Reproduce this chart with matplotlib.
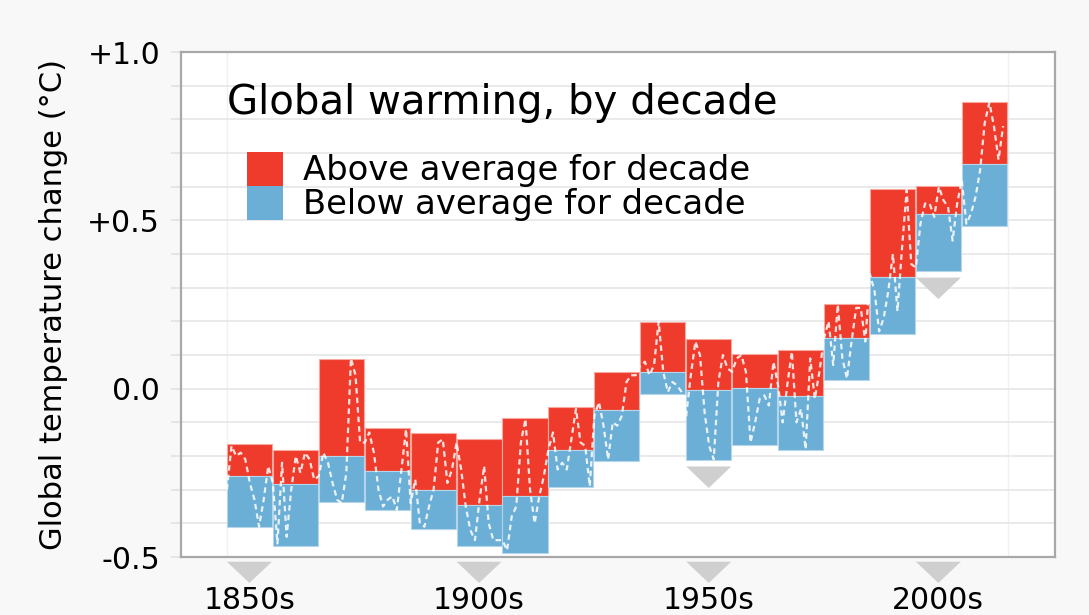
import matplotlib.pyplot as plt
import numpy as np
from matplotlib.patches import Rectangle, Polygon

# decades and their ranges (deg C)
decades = np.arange(1850, 2020, 10)
dec_max = [-0.163, -0.183, 0.089, -0.117, -0.132, -0.150, -0.087, -0.053, 0.049,
           0.198, 0.149, 0.103, 0.116, 0.252, 0.593, 0.601, 0.852]
dec_mean = [-0.260, -0.282, -0.199, -0.244, -0.300, -0.346, -0.318, -0.183, -0.062,
            0.051, -0.005, 0.002, -0.021, 0.151, 0.332, 0.519, 0.667]
dec_min = [-0.412, -0.468, -0.338, -0.361, -0.417, -0.466, -0.487, -0.292, -0.216,
           -0.016, -0.211, -0.166, -0.183, 0.027, 0.163, 0.350, 0.482]

# annual values (dashed line)
annual = [
    -0.30, -0.17, -0.20, -0.19, -0.21, -0.28, -0.33, -0.41, -0.33, -0.23,
    -0.28, -0.46, -0.22, -0.44, -0.30, -0.20, -0.25, -0.19, -0.21, -0.27,
    -0.26, -0.19, -0.22, -0.28, -0.33, -0.34, -0.25, 0.09, 0.04, -0.16,
    -0.16, -0.13, -0.19, -0.30, -0.35, -0.33, -0.32, -0.36, -0.24, -0.12,
    -0.34, -0.27, -0.40, -0.41, -0.35, -0.30, -0.16, -0.15, -0.28, -0.24,
    -0.16, -0.24, -0.35, -0.42, -0.45, -0.33, -0.23, -0.40, -0.45, -0.45,
    -0.45, -0.48, -0.38, -0.35, -0.16, -0.09, -0.30, -0.40, -0.32, -0.26,
    -0.18, -0.13, -0.24, -0.22, -0.24, -0.15, -0.06, -0.16, -0.17, -0.29,
    -0.08, -0.04, -0.11, -0.21, -0.10, -0.11, -0.08, 0.02, 0.04, 0.04,
    0.07, 0.08, 0.04, 0.07, 0.20, 0.05, -0.01, 0.02, 0.01, -0.01,
    -0.08, 0.04, 0.14, 0.10, -0.07, -0.17, -0.21, 0.02, 0.10, 0.06,
    0.05, 0.09, 0.10, 0.05, -0.16, -0.10, -0.03, -0.02, -0.05, 0.08,
    0.01, -0.10, 0.01, 0.11, -0.10, -0.06, -0.18, 0.09, -0.03, 0.05,
    0.15, 0.20, 0.07, 0.25, 0.09, 0.03, 0.14, 0.24, 0.24, 0.14,
    0.34, 0.29, 0.17, 0.21, 0.29, 0.40, 0.23, 0.42, 0.59, 0.37,
    0.36, 0.49, 0.55, 0.55, 0.51, 0.60, 0.56, 0.54, 0.44, 0.55,
    0.62, 0.49, 0.52, 0.57, 0.65, 0.79, 0.85, 0.78, 0.68, 0.78,
]
years = np.arange(1850, 1850 + len(annual))

labelled = [1850, 1900, 1950, 2000]
marked = [1950, 2000]

ytick_vals = [1.0, 0.5, 0.0, -0.5]
ytick_labels = ['+1.0', '+0.5', '0.0', '-0.5']

RED = '#ef3b2c'
BLUE = '#6baed6'
TRI = '#cfcfcf'
W = 9.8

fig = plt.figure(figsize=(10.89, 6.15), dpi=100, facecolor='#f8f8f8')
ax = fig.add_axes([0.1662, 0.0943, 0.8026, 0.8211])
ax.set_facecolor('white')
ax.set_xlim(1840, 2030.3)
ax.set_ylim(-0.5, 1.0)

# grid every 0.1
ax.set_yticks(np.round(np.arange(-0.5, 1.01, 0.1), 1), minor=True)
ax.set_yticks(ytick_vals)
ax.set_yticklabels(ytick_labels, fontsize=21.5)
ax.tick_params(axis='y', which='both', length=7, color='#e2e2e2', width=1.2, pad=8)
ax.set_xticks([])
ax.grid(axis='y', which='both', color='#e6e6e6', lw=1.2, zorder=0)
ax.set_axisbelow(True)
for s in ax.spines.values():
    s.set_color('#a8a8a8')
    s.set_linewidth(1.6)

for x in (1850, 2020):
    ax.axvline(x, color='#f0f0f0', lw=1, zorder=0.5)

# decade bars
for d, hi, m, lo in zip(decades, dec_max, dec_mean, dec_min):
    ax.bar(d, hi - m, width=W, bottom=m, align='edge', color=RED,
           edgecolor='#f7a9a0', lw=0.8, zorder=2)
    ax.bar(d, m - lo, width=W, bottom=lo, align='edge', color=BLUE,
           edgecolor='#b5d6ea', lw=0.8, zorder=2)

ax.plot(years, annual, color='white', lw=1.6, ls=(0, (2.5, 1.8)), alpha=0.85, zorder=3)

# markers inside the plot under highlighted decades
for d in marked:
    lo = dec_min[list(decades).index(d)]
    top = lo - 0.02
    ax.add_patch(Polygon([(d, top), (d + W, top), (d + W / 2, top - 0.064)],
                         closed=True, color=TRI, lw=0, zorder=2))

# markers and labels below the axis
for d in labelled:
    ax.add_patch(Polygon([(d, -0.514), (d + W, -0.514), (d + W / 2, -0.577)],
                         closed=True, color=TRI, lw=0, clip_on=False))
    ax.text(d + W / 2, -0.630, f'{d}s', ha='center', va='center', fontsize=21.5)

ax.set_ylabel('Global temperature change (°C)', fontsize=22, labelpad=14)

ax.text(0.0526, 0.899, 'Global warming, by decade', transform=ax.transAxes,
        fontsize=29, va='center', ha='left')

# legend
ax.add_patch(Rectangle((0.0755, 0.7347), 0.0412, 0.0673, transform=ax.transAxes,
                       color=RED, lw=0, zorder=4))
ax.add_patch(Rectangle((0.0755, 0.6673), 0.0412, 0.0674, transform=ax.transAxes,
                       color=BLUE, lw=0, zorder=4))
ax.text(0.1396, 0.766, 'Above average for decade', transform=ax.transAxes,
        fontsize=24.3, va='center')
ax.text(0.1396, 0.699, 'Below average for decade', transform=ax.transAxes,
        fontsize=24.3, va='center')

fig.savefig('out.png', dpi=100, facecolor=fig.get_facecolor())
